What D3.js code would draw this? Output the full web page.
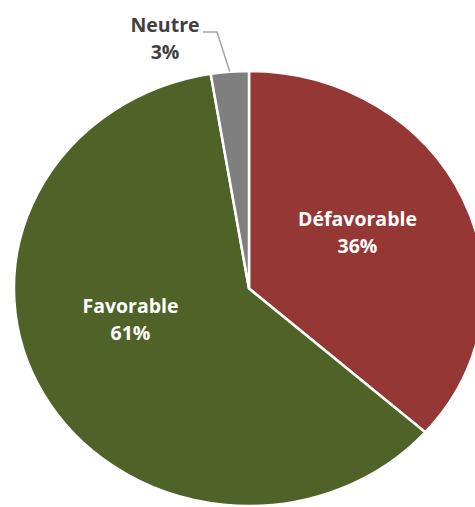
<!DOCTYPE html>
<html>
<head>
<meta charset="utf-8">
<script src="https://cdn.jsdelivr.net/npm/d3@7"></script>
<style>
  html, body { margin: 0; padding: 0; background: #ffffff; }
  svg { display: block; }
</style>
</head>
<body>
<svg id="chart" width="475" height="507"></svg>
<script>
const categories = ["Défavorable", "Favorable", "Neutre"];
const values = [36.5, 60.9, 2.6];
const valueLabels = ["36%", "61%", "3%"];
const colors = ["#953735", "#4F6228", "#7F7F7F"];

const W = 475, H = 507;
const cx = 249, cy = 288.5, rx = 235, ry = 217.5;

const svg = d3.select("#chart");
const data = categories.map((c, i) => ({ cat: c, value: values[i], label: valueLabels[i], color: colors[i] }));

const pie = d3.pie().sort(null).value(d => d.value);
const arcs = pie(data);
const arc = d3.arc().innerRadius(0).outerRadius(1);

const g = svg.append("g").attr("transform", `translate(${cx},${cy}) scale(${rx},${ry})`);
g.selectAll("path").data(arcs).join("path")
  .attr("d", arc)
  .attr("fill", d => d.data.color)
  .attr("stroke", "#ffffff")
  .attr("stroke-width", 2.5)
  .attr("stroke-linejoin", "miter")
  .attr("vector-effect", "non-scaling-stroke");

// label layout (pixel anchors for the two-line labels)
const labelLayout = {
  "Défavorable": { x: 357.5, y: 226, fill: "#ffffff" },
  "Favorable":   { x: 130.5, y: 313, fill: "#ffffff" },
  "Neutre":      { x: 165,   y: 32,  fill: "#404040" }
};
const lineGap = 27;

const labels = svg.append("g")
  .attr("font-family", "'Open Sans', sans-serif")
  .attr("font-weight", "bold")
  .attr("font-size", 19.5)
  .attr("text-anchor", "middle");

arcs.forEach(a => {
  const L = labelLayout[a.data.cat];
  const t = labels.append("text").attr("fill", L.fill);
  t.append("tspan").attr("x", L.x).attr("y", L.y).text(a.data.cat);
  t.append("tspan").attr("x", L.x).attr("y", L.y + lineGap).text(a.data.label);
});

// leader line for Neutre
const neutre = arcs[2];
const mid = (neutre.startAngle + neutre.endAngle) / 2;
const ex = cx + rx * Math.sin(mid), ey = cy - ry * Math.cos(mid);
svg.append("polyline")
  .attr("points", [[203, 32], [217, 32], [ex, ey]].map(p => p.join(",")).join(" "))
  .attr("fill", "none")
  .attr("stroke", "#A6A6A6")
  .attr("stroke-width", 1.5);
</script>
</body>
</html>
